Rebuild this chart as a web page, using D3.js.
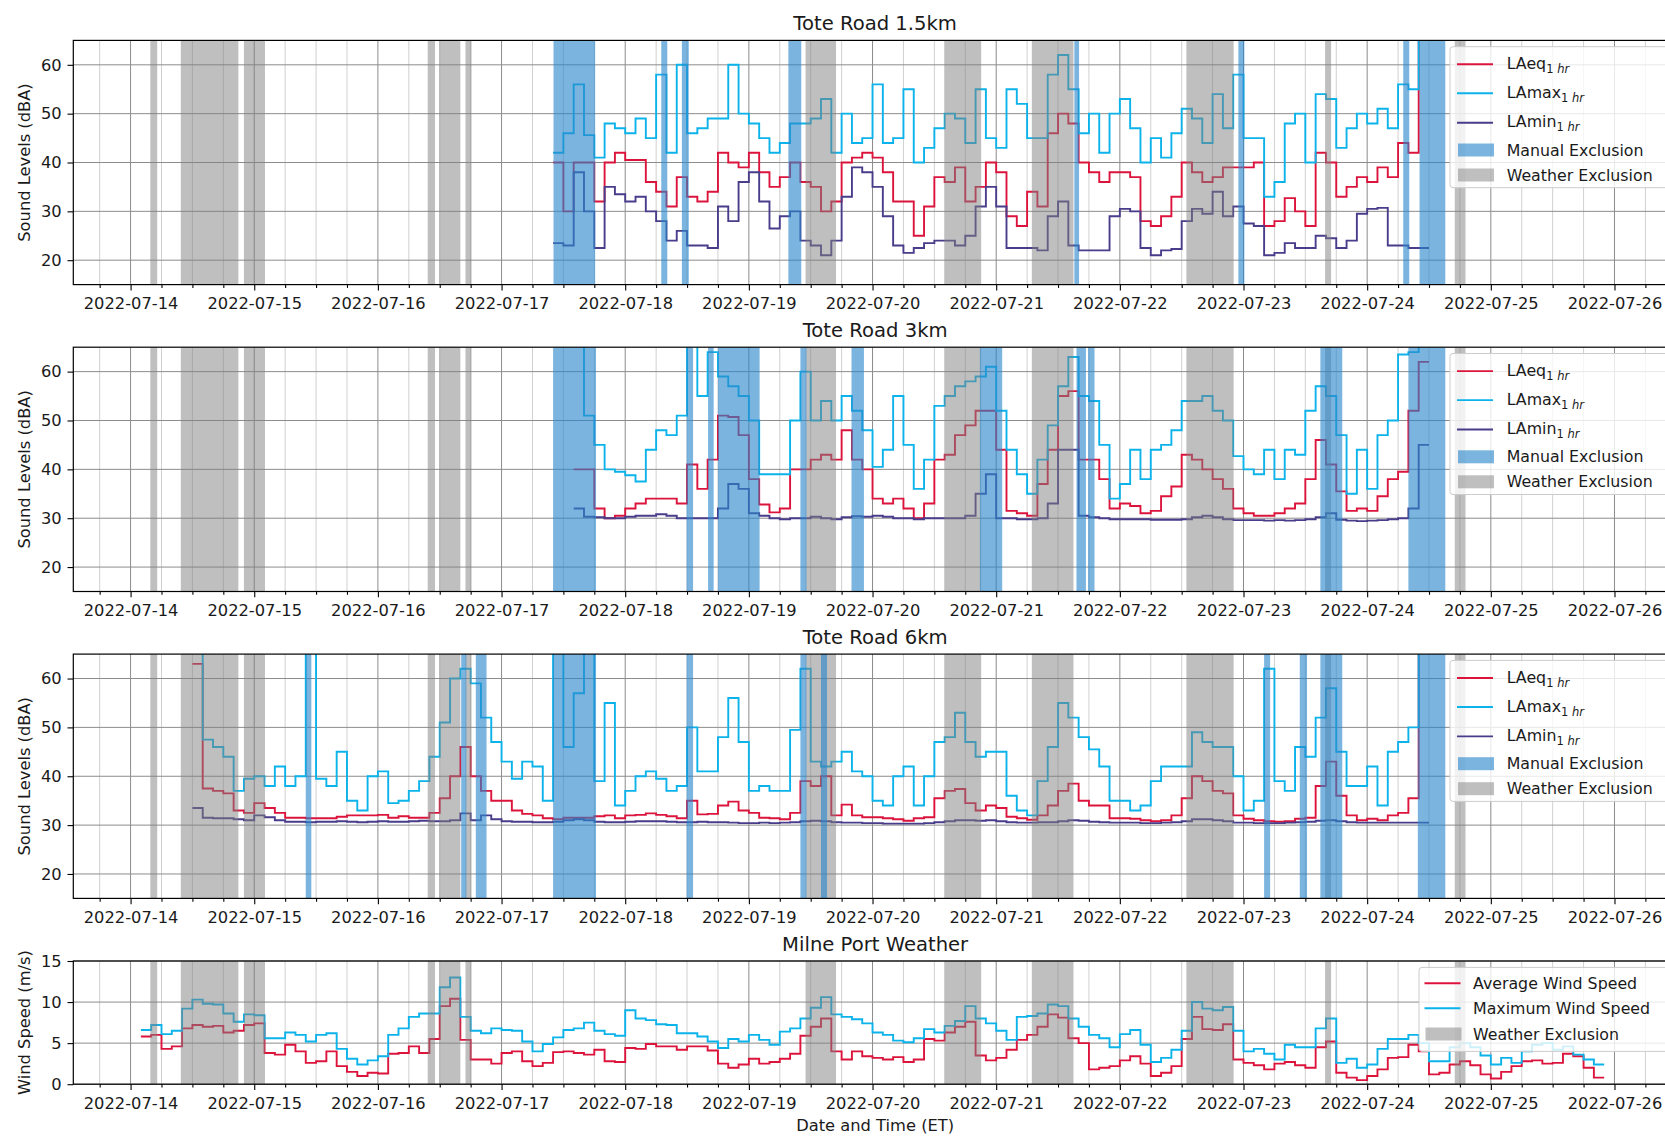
<!doctype html>
<html lang="en">
<head>
  <meta charset="utf-8">
  <title>Tote Road sound levels and Milne Port weather</title>
  <style>
    body { margin: 0; background: #fff; }
    svg { display: block; font-family: "DejaVu Sans", sans-serif; }
  </style>
</head>
<body>
<div id="chart"></div>
<script src="https://cdn.jsdelivr.net/npm/d3@7"></script>
<script>
// Data (2-hour resolution) ------------------------------------------------------------------------------------------
const STEP_HOURS = 2;

const p1Start = "2022-07-17 10:00";
const p1LAeq = [40, 30, 40, 40, 32, 40, 42, 40.5, 40.5, 36, 34, 31, 37, 33, 32, 34, 42, 40, 39, 42, 38, 35, 37, 40, 36,
  35, 30, 32, 40, 41, 42, 41, 38, 32, 32, 25, 31, 37, 36, 39, 32, 35, 40, 38, 29, 27, 34, 31, 46, 50, 48, 40, 38, 36,
  38, 38, 37, 28, 27, 29, 33, 40, 38, 36, 37, 39, 39, 39, 40, 27, 28, 32.7, 30, 27, 42, 40, 33, 35, 37, 36, 39, 37, 44,
  42, 75];
const p1LAmax = [42, 46, 56, 45.6, 41, 48, 47, 46, 49, 45, 58, 42, 60, 46, 47, 49, 49, 60, 50, 48, 45, 42, 44, 48, 48,
  49, 53, 42, 50, 44, 45, 56, 44, 45, 55, 40, 43, 47, 50, 49, 44, 55, 45, 43, 55, 52, 45, 45, 58, 62, 55, 46, 50, 42,
  50, 53, 47, 40, 45, 41, 46, 51, 49, 44, 54, 47, 58, 45, 45, 33, 36, 48, 50, 40, 54, 53, 43, 47, 50, 48, 51, 47, 56,
  55, 80];
const p1LAmin = [23.5, 23, 38, 30, 22.5, 35, 33.5, 32, 33, 30, 28, 24, 26, 23, 23, 22.5, 31, 28, 36, 38, 32, 26.5, 29,
  30, 24, 23, 21, 24, 33, 39, 38, 35, 29, 23, 21.5, 22.5, 23.5, 24, 24, 23, 25, 31, 35, 31, 22.5, 22.5, 22.5, 22, 29,
  32, 23, 22, 22, 22, 29, 30.5, 30, 22.5, 21, 22, 22.3, 28, 30.5, 29.5, 34, 29, 31, 27.5, 27, 21, 21.5, 23.5, 22.5,
  22.5, 25, 24.5, 22.5, 24, 29.5, 30.5, 30.7, 23, 23, 22.5, 22.5];

const p2Start = "2022-07-17 14:00";
const p2LAeq = [40, 40, 32, 30, 30.5, 32, 33, 34, 34, 34, 33, 41, 36, 42, 51, 50.7, 47, 38, 32.8, 31.2, 32, 40, 40, 42,
  43, 42, 48, 42, 40, 34, 33, 34, 32, 30, 33, 42, 43, 47, 49, 52, 52, 44, 31.5, 31, 30.5, 37, 44, 55, 56, 42, 42, 38,
  32, 33, 32.5, 31, 31.5, 34.5, 36.5, 43, 42, 40, 38, 36, 32, 31, 30.5, 30.5, 31, 32, 33, 38, 46, 41, 35.5, 31.5, 32,
  31.5, 34.5, 38, 39.5, 52, 62];
const p2LAmax = [70, 51, 45, 40, 39.5, 38.8, 37.5, 44, 48, 47, 51, 66, 55, 64, 59, 57, 55, 50, 39, 39, 39, 50, 60, 50,
  54, 50, 55, 52, 48, 40.5, 44, 55, 45, 36, 42, 53, 55, 57, 58, 59, 61, 52, 44, 39, 35, 42, 49, 57, 63, 55, 54, 45, 34,
  37, 44, 38, 44, 45, 48, 54, 54, 55, 52, 50, 42.7, 40, 39, 44, 38, 44, 43, 52, 57, 55, 47, 35, 44, 36, 47, 50, 63.5,
  64, 72];
const p2LAmin = [32, 30.3, 30.2, 30, 30, 30.3, 30.5, 30.5, 30.8, 30.5, 30, 30, 30, 30, 32, 37, 36, 31, 30.5, 30, 29.8,
  30, 30, 30.3, 30, 29.8, 30.2, 30.4, 30.3, 30.5, 30.3, 30, 30, 29.8, 30, 30, 30, 30, 30.5, 35, 39, 30, 30, 29.8, 29.8,
  30, 33, 44, 44, 30.5, 30.2, 30, 29.8, 29.8, 29.8, 29.8, 29.7, 29.7, 29.7, 29.8, 30.2, 30.5, 30.2, 29.8, 29.6, 29.6,
  29.6, 29.5, 29.6, 29.5, 29.6, 29.8, 30.2, 31, 29.7, 29.5, 29.4, 29.5, 29.6, 29.8, 30, 32, 45];

const p3Start = "2022-07-14 12:00";
const p3LAeq = [63, 37.5, 37, 36.5, 33, 32.5, 34.5, 33.5, 32.5, 31.5, 31.5, 31.4, 31.4, 31.4, 31.7, 32, 32, 32, 32.1,
  31.5, 31.8, 31.5, 31.5, 32.5, 35.5, 40, 46, 40, 37, 35, 35, 33, 32.3, 32, 31.4, 31.2, 31.5, 31.5, 31.5, 31.8, 32,
  31.4, 32, 32.1, 32.4, 32.1, 31.8, 31.4, 35, 32.2, 32.3, 34, 34.8, 33, 32.5, 31.5, 31.4, 31.2, 32.5, 39, 38, 40, 32,
  34.2, 32, 31.6, 31.6, 31.4, 31.2, 30.9, 31.4, 31.6, 35.5, 37, 37.4, 34.5, 33, 34, 33.5, 31.7, 31.4, 31.1, 32, 34, 37,
  38.5, 35, 34, 34, 31.4, 31.4, 31.3, 31, 30.8, 31, 32, 35.5, 40, 39, 37, 36.5, 32, 31.3, 31, 30.8, 30.7, 30.8, 31.3,
  31.5, 38, 43, 36, 32, 31, 31.3, 31, 32, 32.5, 35.5, 70];
const p3LAmax = [75, 47.5, 46, 44, 37, 39.5, 40, 38, 42, 38, 40, 70, 39.5, 38, 45, 35, 33, 40, 41, 34.5, 35, 37, 39,
  44, 51, 60, 62, 59, 52, 47, 43, 39.5, 43, 42, 35, 70, 46, 57, 68, 39, 55, 34, 37, 40, 41, 39.5, 37, 38, 50, 41, 41,
  48, 56, 47, 37, 38, 37, 37, 49.5, 62, 43, 42, 43, 45, 41, 40, 35, 34, 40, 42, 34, 40, 47, 48, 53, 47, 44, 45, 45, 36,
  33, 32, 39, 46, 55, 52, 48, 45.5, 42, 35, 35, 33, 34, 39, 42, 42, 42, 49, 47, 46, 46, 40, 33, 35, 62, 39, 37, 46, 44,
  52, 58, 45, 38, 38, 42, 34, 45, 47, 50, 70];
const p3LAmin = [33.5, 31.5, 31.4, 31.4, 31.2, 31, 32, 31.6, 31, 30.7, 30.7, 30.6, 30.7, 30.7, 30.8, 30.7, 30.6, 30.7,
  30.8, 30.7, 30.7, 30.8, 30.9, 30.8, 30.8, 31, 32.4, 31, 32, 31.2, 30.8, 30.7, 30.7, 30.6, 30.6, 30.7, 31, 31.2, 31,
  30.7, 30.6, 30.6, 30.7, 30.8, 30.8, 30.8, 30.7, 30.6, 30.6, 30.7, 30.6, 30.6, 30.5, 30.4, 30.4, 30.5, 30.4, 30.5,
  30.6, 30.8, 30.9, 30.8, 30.6, 30.5, 30.5, 30.4, 30.4, 30.3, 30.3, 30.3, 30.3, 30.4, 30.6, 30.8, 31, 31, 30.9, 31,
  30.8, 30.6, 30.5, 30.5, 30.6, 30.6, 30.8, 31, 30.9, 30.7, 30.6, 30.5, 30.5, 30.5, 30.4, 30.4, 30.5, 30.6, 30.8, 31.2,
  31.2, 31, 30.8, 30.5, 30.5, 30.4, 30.4, 30.4, 30.5, 30.6, 30.7, 30.9, 31, 30.8, 30.6, 30.5, 30.5, 30.5, 30.5, 30.5,
  30.5, 30.5];

const windStart = "2022-07-14 02:00";
const windMax = [6.6, 7.2, 6.1, 6.5, 9.2, 10.3, 9.8, 9.7, 8.6, 7.6, 8.5, 8.4, 5.6, 5.6, 6.3, 6.0, 5.2, 6.0, 6.2, 4.3,
  3.1, 2.4, 2.9, 3.4, 6.0, 6.8, 8.2, 8.6, 8.6, 11.8, 13.0, 8.2, 6.5, 6.2, 6.8, 6.6, 6.5, 5.2, 4.0, 4.9, 5.7, 6.6, 6.8,
  7.5, 6.5, 6.1, 5.9, 9.0, 8.0, 7.8, 7.3, 7.2, 6.2, 6.2, 5.8, 5.2, 4.4, 5.5, 5.2, 6.0, 5.4, 4.8, 6.4, 6.8, 8.0, 9.3,
  10.6, 8.5, 8.2, 7.9, 7.4, 6.3, 6.0, 5.3, 5.1, 5.6, 6.7, 6.3, 7.1, 7.7, 9.5, 8.0, 7.4, 6.5, 5.4, 8.2, 8.3, 8.6, 9.7,
  9.5, 8.0, 7.0, 6.0, 5.6, 4.5, 6.1, 6.6, 4.8, 2.7, 3.2, 4.2, 6.5, 10.0, 9.2, 9.0, 9.4, 6.5, 4.0, 4.3, 3.7, 3.0, 4.8,
  4.5, 4.5, 6.8, 8.0, 2.6, 3.1, 2.0, 2.4, 4.3, 5.5, 5.5, 6.0, 5.0, 2.8, 2.8, 4.5, 5.0, 4.5, 3.5, 2.4, 3.2, 2.6, 4.0,
  4.8, 5.0, 4.2, 4.6, 3.6, 3.0, 2.4];
const windAvg = [5.8, 6.0, 4.3, 4.6, 6.8, 7.2, 7.0, 7.1, 6.3, 6.5, 7.2, 7.4, 3.8, 3.6, 4.8, 4.0, 2.6, 2.8, 4.0, 2.2,
  1.5, 1.0, 1.4, 1.3, 3.7, 3.8, 4.6, 3.8, 5.5, 9.5, 10.4, 5.4, 3.0, 3.0, 2.5, 3.8, 4.0, 2.8, 2.2, 2.6, 3.9, 4.0, 3.8,
  3.6, 4.2, 2.8, 2.7, 4.4, 4.3, 4.9, 4.6, 4.6, 4.2, 4.6, 4.6, 4.1, 2.5, 2.0, 2.4, 3.1, 2.5, 2.7, 3.1, 3.7, 5.9, 7.0,
  8.0, 4.0, 3.0, 4.0, 3.4, 3.2, 3.0, 3.3, 2.7, 3.0, 5.5, 5.3, 6.3, 7.0, 7.6, 3.5, 2.9, 3.2, 4.2, 5.4, 6.0, 7.0, 8.5,
  8.1, 5.6, 5.0, 1.8, 2.0, 2.2, 2.9, 3.4, 2.5, 1.0, 1.4, 2.2, 5.5, 8.2, 6.7, 6.6, 7.3, 3.0, 2.6, 2.3, 1.8, 2.5, 2.7,
  2.3, 2.0, 4.5, 5.2, 1.4, 0.8, 0.5, 1.0, 1.8, 3.2, 3.3, 4.8, 4.0, 1.2, 1.4, 2.4, 2.8, 2.3, 1.2, 0.7, 1.5, 2.2, 2.8,
  2.9, 2.5, 2.6, 3.7, 3.4, 2.0, 0.8];

const weatherExclusions = [
  ["2022-07-14 03:50", "2022-07-14 05:10"], ["2022-07-14 09:45", "2022-07-14 20:55"],
  ["2022-07-14 22:00", "2022-07-15 02:05"], ["2022-07-16 09:40", "2022-07-16 11:05"],
  ["2022-07-16 11:55", "2022-07-16 16:00"], ["2022-07-16 17:00", "2022-07-16 18:10"],
  ["2022-07-19 11:00", "2022-07-19 16:55"], ["2022-07-20 13:55", "2022-07-20 21:05"],
  ["2022-07-21 06:55", "2022-07-21 15:00"], ["2022-07-22 12:55", "2022-07-22 22:05"],
  ["2022-07-23 15:50", "2022-07-23 17:00"], ["2022-07-24 17:00", "2022-07-24 19:05"]
];
const p1Manual = [
  ["2022-07-17 10:05", "2022-07-17 18:10"], ["2022-07-18 07:00", "2022-07-18 08:10"],
  ["2022-07-18 11:00", "2022-07-18 12:20"], ["2022-07-19 07:40", "2022-07-19 10:10"],
  ["2022-07-21 15:10", "2022-07-21 16:05"], ["2022-07-22 23:00", "2022-07-23 00:10"],
  ["2022-07-24 07:00", "2022-07-24 08:10"], ["2022-07-24 10:10", "2022-07-24 15:10"]
];
const p2Manual = [
  ["2022-07-17 10:00", "2022-07-17 18:20"], ["2022-07-18 11:55", "2022-07-18 13:10"],
  ["2022-07-18 16:05", "2022-07-18 17:10"], ["2022-07-18 18:00", "2022-07-19 02:05"],
  ["2022-07-19 10:00", "2022-07-19 11:10"], ["2022-07-19 19:55", "2022-07-19 22:20"],
  ["2022-07-20 20:50", "2022-07-21 01:10"], ["2022-07-21 15:35", "2022-07-21 17:25"],
  ["2022-07-21 17:50", "2022-07-21 19:05"], ["2022-07-23 14:55", "2022-07-23 19:10"],
  ["2022-07-24 08:00", "2022-07-24 15:10"]
];
const p3Manual = [
  ["2022-07-15 10:00", "2022-07-15 11:05"], ["2022-07-16 16:10", "2022-07-16 17:10"],
  ["2022-07-16 19:00", "2022-07-16 21:05"], ["2022-07-17 10:00", "2022-07-17 18:20"],
  ["2022-07-18 11:55", "2022-07-18 13:10"], ["2022-07-19 10:00", "2022-07-19 11:10"],
  ["2022-07-19 14:00", "2022-07-19 15:10"], ["2022-07-23 04:00", "2022-07-23 05:10"],
  ["2022-07-23 10:55", "2022-07-23 12:20"], ["2022-07-23 14:55", "2022-07-23 19:10"],
  ["2022-07-24 09:50", "2022-07-24 15:10"]
];

const xDomain = ["2022-07-13 12:53", "2022-07-26 12:08"];
const soundTicks = [20, 30, 40, 50, 60];
const windTicks = [0, 5, 10, 15];

// Setup ---------------------------------------------------------------------------------------------------------------
const width = 1665, height = 1137;
const left = 73.3, right = 1677;
const parse = d3.utcParse("%Y-%m-%d %H:%M");
const HOUR = 3600e3;

const colors = {laeq: "#dc143c", lamax: "#0bb3ea", lamin: "#483d8b", manual: "#2a88cc", weather: "#808080"};

const x = d3.scaleUtc().domain(xDomain.map(parse)).range([left, right]);

const svg = d3.select("#chart").append("svg")
  .attr("width", width)
  .attr("height", height)
  .attr("viewBox", [0, 0, width, height]);

function toSeries(start, values) {
  const t0 = +parse(start);
  const pts = values.map((v, i) => ({t: new Date(t0 + i * STEP_HOURS * HOUR), v}));
  pts.push({t: new Date(t0 + values.length * STEP_HOURS * HOUR), v: values[values.length - 1]});
  return pts;
}

const panels = [
  {title: "Tote Road 1.5km", top: 40.4, bottom: 284.6, kind: "sound",
    lines: [[p1Start, p1LAeq, colors.laeq], [p1Start, p1LAmax, colors.lamax], [p1Start, p1LAmin, colors.lamin]],
    manual: p1Manual},
  {title: "Tote Road 3km", top: 347.2, bottom: 591.5, kind: "sound",
    lines: [[p2Start, p2LAeq, colors.laeq], [p2Start, p2LAmax, colors.lamax], [p2Start, p2LAmin, colors.lamin]],
    manual: p2Manual},
  {title: "Tote Road 6km", top: 654.1, bottom: 898.4, kind: "sound",
    lines: [[p3Start, p3LAeq, colors.laeq], [p3Start, p3LAmax, colors.lamax], [p3Start, p3LAmin, colors.lamin]],
    manual: p3Manual},
  {title: "Milne Port Weather", top: 961, bottom: 1084.2, kind: "wind",
    lines: [[windStart, windAvg, colors.laeq], [windStart, windMax, colors.lamax]],
    manual: []}
];

const fontTick = 16.3;
const textColor = "#1a1a1a";

panels.forEach((p, idx) => {
  const y = d3.scaleLinear()
    .domain(p.kind === "sound" ? [15, 65] : [0, 15])
    .range([p.bottom, p.top]);
  const yTicks = p.kind === "sound" ? soundTicks : windTicks;
  const g = svg.append("g");

  const clipId = "clip-" + idx;
  svg.append("clipPath").attr("id", clipId)
    .append("rect").attr("x", left).attr("y", p.top).attr("width", right - left).attr("height", p.bottom - p.top);

  // grid
  const minor = x.ticks(d3.utcHour.every(6)).filter(d => d.getUTCHours() !== 0);
  const major = x.ticks(d3.utcDay.every(1));
  g.append("g").selectAll("line").data(minor).join("line")
    .attr("x1", d => x(d)).attr("x2", d => x(d)).attr("y1", p.top).attr("y2", p.bottom)
    .attr("stroke", "#d0d0d0").attr("stroke-width", 1);
  g.append("g").selectAll("line").data(major).join("line")
    .attr("x1", d => x(d)).attr("x2", d => x(d)).attr("y1", p.top).attr("y2", p.bottom)
    .attr("stroke", "#8c8c8c").attr("stroke-width", 1);
  g.append("g").selectAll("line").data(yTicks).join("line")
    .attr("x1", left).attr("x2", right).attr("y1", d => y(d)).attr("y2", d => y(d))
    .attr("stroke", "#8c8c8c").attr("stroke-width", 1);

  // lines
  const line = d3.line().x(d => x(d.t)).y(d => y(d.v)).curve(d3.curveStepAfter);
  const lg = g.append("g").attr("clip-path", `url(#${clipId})`);
  p.lines.forEach(([start, values, color]) => {
    lg.append("path")
      .datum(toSeries(start, values))
      .attr("d", line)
      .attr("fill", "none")
      .attr("stroke", color)
      .attr("stroke-width", 1.9)
      .attr("stroke-linejoin", "miter");
  });

  // exclusion spans
  const sg = g.append("g").attr("clip-path", `url(#${clipId})`);
  sg.selectAll("rect.w").data(weatherExclusions).join("rect").attr("class", "w")
    .attr("x", d => x(parse(d[0]))).attr("width", d => x(parse(d[1])) - x(parse(d[0])))
    .attr("y", p.top).attr("height", p.bottom - p.top)
    .attr("fill", colors.weather).attr("fill-opacity", 0.5);
  sg.selectAll("rect.m").data(p.manual).join("rect").attr("class", "m")
    .attr("x", d => x(parse(d[0]))).attr("width", d => x(parse(d[1])) - x(parse(d[0])))
    .attr("y", p.top).attr("height", p.bottom - p.top)
    .attr("fill", colors.manual).attr("fill-opacity", 0.62);

  // axes
  const xAxis = g.append("g").attr("transform", `translate(0,${p.bottom})`)
    .call(d3.axisBottom(x).ticks(d3.utcDay.every(1)).tickFormat(d3.utcFormat("%Y-%m-%d"))
      .tickSize(5.8).tickPadding(7.3));
  const xMinor = g.append("g").attr("transform", `translate(0,${p.bottom})`)
    .call(d3.axisBottom(x).tickValues(minor).tickFormat("").tickSize(3.3));
  const yAxis = g.append("g").attr("transform", `translate(${left},0)`)
    .call(d3.axisLeft(y).tickValues(yTicks).tickSize(5.8).tickPadding(5.8));
  [xAxis, xMinor, yAxis].forEach(a => {
    a.select(".domain").remove();
    a.attr("font-family", null).attr("font-size", fontTick);
    a.selectAll("line").attr("stroke", "#000").attr("stroke-width", 1.1);
    a.selectAll("text").attr("fill", textColor);
  });

  // frame
  g.append("rect").attr("x", left).attr("y", p.top).attr("width", right - left).attr("height", p.bottom - p.top)
    .attr("fill", "none").attr("stroke", "#000").attr("stroke-width", 1.2);

  // title and y label
  g.append("text").attr("x", (left + right) / 2).attr("y", p.top - 10)
    .attr("text-anchor", "middle").attr("font-size", 19.6).attr("fill", textColor).text(p.title);
  g.append("text")
    .attr("transform", `translate(30,${(p.top + p.bottom) / 2}) rotate(-90)`)
    .attr("text-anchor", "middle").attr("font-size", fontTick).attr("fill", textColor)
    .text(p.kind === "sound" ? "Sound Levels (dBA)" : "Wind Speed (m/s)");

  // legend
  const leg = g.append("g");
  if (p.kind === "sound") {
    leg.append("rect").attr("x", 1450).attr("y", p.top + 6.3).attr("width", 260).attr("height", 141)
      .attr("rx", 3).attr("fill", "#fff").attr("fill-opacity", 0.8).attr("stroke", "#cccccc");
    const rows = [
      {label: "LAeq", color: colors.laeq, off: 23.9},
      {label: "LAmax", color: colors.lamax, off: 52.9},
      {label: "LAmin", color: colors.lamin, off: 82.3}
    ];
    rows.forEach(r => {
      const yy = p.top + r.off;
      leg.append("line").attr("x1", 1457).attr("x2", 1493).attr("y1", yy).attr("y2", yy)
        .attr("stroke", r.color).attr("stroke-width", 1.9);
      const t = leg.append("text").attr("x", 1506.7).attr("y", yy).attr("dy", "0.3em")
        .attr("font-size", 15.8).attr("fill", textColor).text(r.label);
      t.append("tspan").attr("dy", 4).attr("font-size", 11.5).text("1 ");
      t.append("tspan").attr("font-size", 11.5).attr("font-style", "italic").text("hr");
    });
    [["Manual Exclusion", colors.manual, 0.62, 109.6], ["Weather Exclusion", colors.weather, 0.5, 134.6]]
      .forEach(([label, color, op, off]) => {
        const yy = p.top + off;
        leg.append("rect").attr("x", 1458).attr("y", yy - 6.5).attr("width", 36).attr("height", 13)
          .attr("fill", color).attr("fill-opacity", op);
        leg.append("text").attr("x", 1506.7).attr("y", yy).attr("dy", "0.35em")
          .attr("font-size", 15.8).attr("fill", textColor).text(label);
      });
  } else {
    leg.append("rect").attr("x", 1419).attr("y", p.top + 6.4).attr("width", 260).attr("height", 84)
      .attr("rx", 3).attr("fill", "#fff").attr("fill-opacity", 0.8).attr("stroke", "#cccccc");
    [["Average Wind Speed", colors.laeq, 22.3], ["Maximum Wind Speed", colors.lamax, 47.3]].forEach(([label, color, off]) => {
      const yy = p.top + off;
      leg.append("line").attr("x1", 1424.5).attr("x2", 1460.5).attr("y1", yy).attr("y2", yy)
        .attr("stroke", color).attr("stroke-width", 1.9);
      leg.append("text").attr("x", 1473).attr("y", yy).attr("dy", "0.35em")
        .attr("font-size", 15.8).attr("fill", textColor).text(label);
    });
    const yy = p.top + 73;
    leg.append("rect").attr("x", 1425.5).attr("y", yy - 6.5).attr("width", 36).attr("height", 13)
      .attr("fill", colors.weather).attr("fill-opacity", 0.5);
    leg.append("text").attr("x", 1473).attr("y", yy).attr("dy", "0.35em")
      .attr("font-size", 15.8).attr("fill", textColor).text("Weather Exclusion");
  }
});

svg.append("text").attr("x", (left + right) / 2).attr("y", 1131)
  .attr("text-anchor", "middle").attr("font-size", fontTick).attr("fill", textColor)
  .text("Date and Time (ET)");
</script>
</body>
</html>
